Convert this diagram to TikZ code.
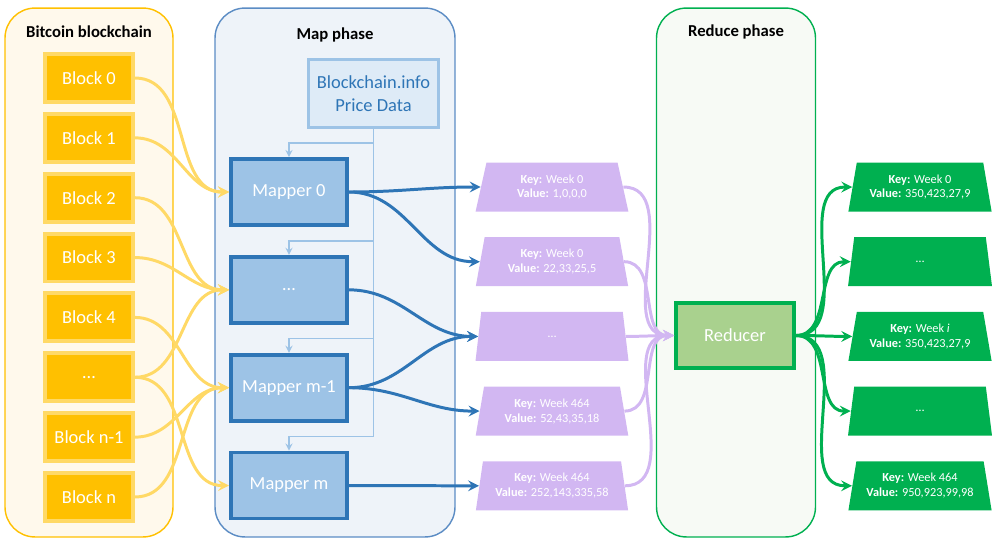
\documentclass[tikz,border=0pt]{standalone}
\usepackage{fontspec}
\setmainfont{Carlito}
\usepackage{tikz}
\usetikzlibrary{positioning}
\usetikzlibrary{arrows}
\usetikzlibrary{shapes.geometric}
\definecolor{chainbg}{HTML}{FFF9EC}
\definecolor{chainedge}{HTML}{FFC000}
\definecolor{blockfill}{HTML}{FFC000}
\definecolor{blockedge}{HTML}{FFD966}
\definecolor{mapbg}{HTML}{EEF3F9}
\definecolor{mapedge}{HTML}{5B8CC4}
\definecolor{mapperfill}{HTML}{9DC3E6}
\definecolor{mapperedge}{HTML}{2E75B6}
\definecolor{pricefill}{HTML}{DEEBF7}
\definecolor{priceedge}{HTML}{9DC3E6}
\definecolor{pairfill}{HTML}{D2B7F2}
\definecolor{redbg}{HTML}{F7FAF5}
\definecolor{rededge}{HTML}{00B050}
\definecolor{reducerfill}{HTML}{A9D18E}
\tikzset{
  phase/.style={rectangle,rounded corners=6mm,line width=0.8pt,
                minimum height=10.58cm},
  phasetitle/.style={font=\fontsize{9.5}{11}\selectfont\bfseries},
  block/.style={rectangle,draw=blockedge,fill=blockfill,line width=2.2pt,
                minimum width=1.76cm,minimum height=0.96cm,text=white,
                font=\fontsize{10.5}{12}\selectfont},
  mapper/.style={rectangle,draw=mapperedge,fill=mapperfill,line width=2.2pt,
                 minimum width=2.32cm,minimum height=1.32cm,text=white,
                 font=\fontsize{10.5}{12}\selectfont},
  pricebox/.style={rectangle,draw=priceedge,fill=pricefill,line width=1.7pt,
                   minimum width=2.6cm,minimum height=1.36cm,align=center,
                   text=mapperedge,font=\fontsize{10.5}{13}\selectfont},
  reducer/.style={rectangle,draw=rededge,fill=reducerfill,line width=2.2pt,
                  minimum width=2.36cm,minimum height=1.3cm,text=white,
                  font=\fontsize{10.5}{12}\selectfont},
  pair/.style={trapezium,trapezium stretches=true,trapezium angle=77,
               fill=pairfill,minimum width=3.06cm,minimum height=0.98cm,
               inner sep=0pt,text=white,align=center,
               font=\fontsize{7}{8.5}\selectfont},
  result/.style={pair,fill=rededge,trapezium angle=75,minimum width=2.88cm},
  chainflow/.style={>=stealth,line width=1.7pt,->,draw=blockedge},
  mapflow/.style={>=stealth,line width=1.7pt,->,draw=mapperedge},
  pairflow/.style={>=stealth,line width=1.7pt,->,draw=pairfill},
  resultflow/.style={>=stealth,line width=1.7pt,->,draw=rededge},
  pricefeed/.style={>=stealth,line width=0.8pt,->,draw=priceedge},
}
\begin{document}
\begin{tikzpicture}[x=0.02cm,y=-0.02cm,node distance=1.6mm]
  \useasboundingbox (0,0) rectangle (1000,545);
  % phases
  \node[phase,draw=chainedge,fill=chainbg,minimum width=3.36cm] (chain) at (89,272.5) {};
  \node[phase,draw=mapedge,fill=mapbg,minimum width=4.8cm] (mapph) at (335,272.5) {};
  \node[phase,draw=rededge,fill=redbg,minimum width=3.18cm] (redph) at (736,272.5) {};
  \node[phasetitle] (chaintitle) at (89,32) {Bitcoin blockchain};
  \node[phasetitle] (maptitle) at (335,35) {Map phase};
  \node[phasetitle] (redtitle) at (736,32) {Reduce phase};

  % blocks
  \node[block] (blk0) at (89,78)     {Block 0};
  \node[block] (blk1) [below=of blk0] {Block 1};
  \node[block] (blk2) [below=of blk1] {Block 2};
  \node[block] (blk3) [below=of blk2] {Block 3};
  \node[block] (blk4) [below=of blk3] {Block 4};
  \node[block] (blkd) [below=of blk4] {\dots};
  \node[block] (blkn1) [below=of blkd] {Block n-1};
  \node[block] (blkn) [below=of blkn1] {Block n};

  % mappers
  \node[pricebox] (price) at (373.5,93.5) {Blockchain.info\\Price Data};
  \node[mapper] (map0) at (289,192)            {Mapper 0};
  \node[mapper] (mapd) [below=5.6mm of map0]   {\dots};
  \node[mapper] (mapm1) [below=5.6mm of mapd]  {Mapper m-1};
  \node[mapper] (mapm) [below=5.6mm of mapm1]  {Mapper m};

  % intermediate pairs
  \node[pair] (kv0) at (552,187)          {\textbf{Key:} Week 0\\\textbf{Value:} 1,0,0,0};
  \node[pair] (kv1) [below=5mm of kv0]    {\textbf{Key:} Week 0\\\textbf{Value:} 22,33,25,5};
  \node[pair] (kvd) [below=5mm of kv1]    {\dots};
  \node[pair] (kv2) [below=5mm of kvd]    {\textbf{Key:} Week 464\\\textbf{Value:} 52,43,35,18};
  \node[pair] (kv3) [below=5mm of kv2]    {\textbf{Key:} Week 464\\\textbf{Value:} 252,143,335,58};

  % reducer and results
  \node[reducer] (red) at (735,335.5) {Reducer};
  \node[result] (res0) at (920,187)       {\textbf{Key:} Week 0\\\textbf{Value:} 350,423,27,9};
  \node[result] (res1) [below=5mm of res0] {\dots};
  \node[result] (resi) [below=5mm of res1] {\textbf{Key:} Week \textit{i}\\\textbf{Value:} 350,423,27,9};
  \node[result] (res2) [below=5mm of resi] {\dots};
  \node[result] (res3) [below=5mm of res2] {\textbf{Key:} Week 464\\\textbf{Value:} 950,923,99,98};

  % price data feed
  \draw[pricefeed] (price.south) |- ([yshift=2.8mm]map0.north) -- (map0.north);
  \draw[pricefeed] (price.south) |- ([yshift=2.8mm]mapd.north) -- (mapd.north);
  \draw[pricefeed] (price.south) |- ([yshift=2.8mm]mapm1.north) -- (mapm1.north);
  \draw[pricefeed] (price.south) |- ([yshift=2.8mm]mapm.north) -- (mapm.north);

  % blocks to mappers
  \draw[chainflow] (blk0.east) to[out=0,in=180] (map0.west);
  \draw[chainflow] (blk1.east) to[out=0,in=180] (map0.west);
  \draw[chainflow] (blk2.east) to[out=0,in=180] (mapd.west);
  \draw[chainflow] (blk3.east) to[out=0,in=180] (mapd.west);
  \draw[chainflow] (blk4.east) to[out=0,in=180] (mapm1.west);
  \draw[chainflow] (blkd.east) to[out=0,in=180] (mapd.west);
  \draw[chainflow] (blkd.east) to[out=0,in=180] (mapm.west);
  \draw[chainflow] (blkn1.east) to[out=0,in=180] (mapm1.west);
  \draw[chainflow] (blkn.east) to[out=0,in=180] (mapm1.west);

  % mappers to pairs
  \draw[mapflow] (map0.east) to[out=0,in=180] (kv0.west);
  \draw[mapflow] (map0.east) to[out=0,in=180] (kv1.west);
  \draw[mapflow] (mapd.east) to[out=0,in=180] (kvd.west);
  \draw[mapflow] (mapm1.east) to[out=0,in=180] (kvd.west);
  \draw[mapflow] (mapm1.east) to[out=0,in=180] (kv2.west);
  \draw[mapflow] (mapm.east) to[out=0,in=180] (kv3.west);

  % pairs to reducer
  \draw[pairflow] (kv0.east) to[out=0,in=180] (red.west);
  \draw[pairflow] (kv1.east) to[out=0,in=180] (red.west);
  \draw[pairflow] (kvd.east) to[out=0,in=180] (red.west);
  \draw[pairflow] (kv2.east) to[out=0,in=180] (red.west);
  \draw[pairflow] (kv3.east) to[out=0,in=180] (red.west);

  % reducer to results
  \draw[resultflow] (red.east) to[out=0,in=180] (res0.west);
  \draw[resultflow] (red.east) to[out=0,in=180] (res1.west);
  \draw[resultflow] (red.east) to[out=0,in=180] (resi.west);
  \draw[resultflow] (red.east) to[out=0,in=180] (res2.west);
  \draw[resultflow] (red.east) to[out=0,in=180] (res3.west);
\end{tikzpicture}
\end{document}
